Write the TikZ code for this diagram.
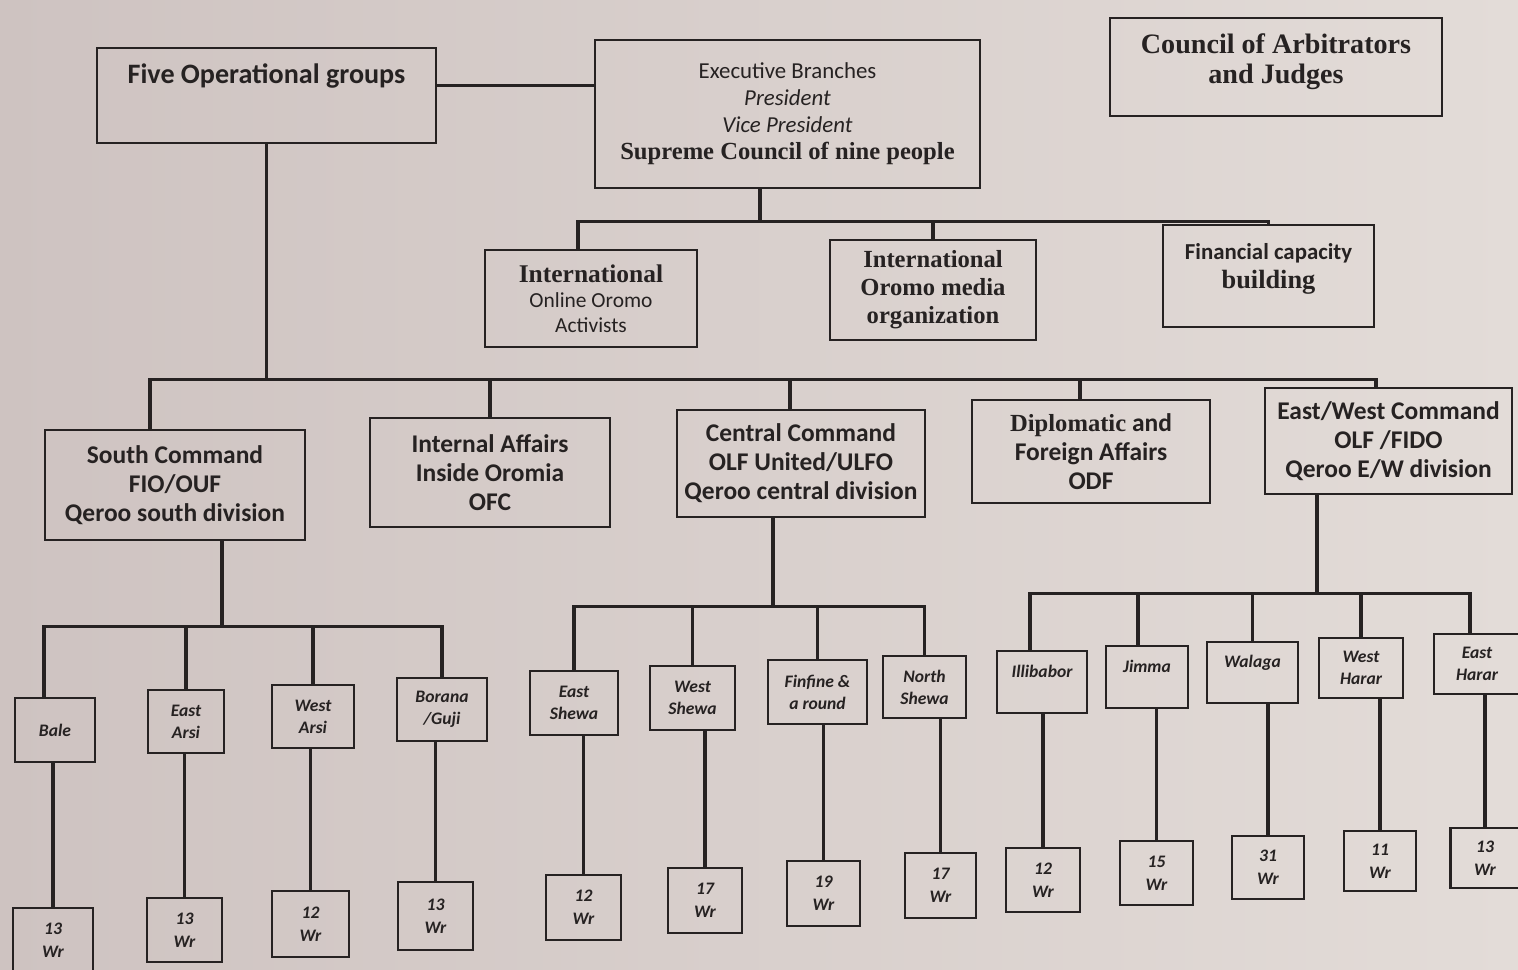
\documentclass[tikz,border=0pt]{standalone}
\usepackage{fontspec}
\setmainfont{Carlito}
\newfontfamily\tnr{Liberation Serif}
\usetikzlibrary{calc}
\definecolor{paperL}{RGB}{206,195,193}
\definecolor{paperR}{RGB}{227,220,216}
\definecolor{ink}{RGB}{38,34,34}
\tikzset{
  box/.style 2 args={draw=ink, line width=1.4pt, rectangle, inner sep=0pt, align=center, text=ink,
    minimum width=#1*0.02cm, minimum height=#2*0.02cm},
  link/.style={draw=ink, line width=1.8pt},
  lvltwo/.style={font=\fontsize{14.5}{16.5}\selectfont\bfseries},
  leaf/.style={font=\fontsize{10}{12.5}\selectfont\bfseries\itshape},
  wr/.style={font=\fontsize{10}{13}\selectfont\bfseries\itshape},
}
\begin{document}
\begin{tikzpicture}[x=0.02cm,y=-0.02cm]
\useasboundingbox (0,0) rectangle (1518,970);
\shade[left color=paperL, right color=paperR] (0,0) rectangle (1518,970);

% top level
\node[box={339}{95}, font=\fontsize{16}{18}\selectfont\bfseries, text height=0.7cm, text depth=1.2cm] (five) at (266.5,95.5) {Five Operational groups};
\node[box={385}{148}, font=\fontsize{13}{15.4}\selectfont] (exec) at (787.5,114)
  {Executive Branches\\ \textit{President}\\ \textit{Vice President}\\ {\tnr\bfseries\fontsize{14}{15.4}\selectfont Supreme Council of nine people}};
\node[box={332}{98}, font=\tnr\bfseries\fontsize{16}{17.6}\selectfont, text height=1.32cm, text depth=0.64cm] (council) at (1276,67) {Council of Arbitrators\\ and Judges};

% level 1
\node[box={212}{97}, font=\fontsize{12.2}{14.2}\selectfont] (online) at (591,298.5)
  {{\tnr\bfseries\fontsize{14.5}{14.2}\selectfont International}\\ Online Oromo\\ Activists};
\node[box={206}{100}, font=\tnr\bfseries\fontsize{14}{16}\selectfont] (media) at (933,290) {International\\ Oromo media\\ organization};
\node[box={211}{102}, font=\fontsize{13}{16.5}\selectfont\bfseries, text height=1.26cm, text depth=0.78cm] (fin) at (1268.5,276)
  {Financial capacity\\ {\tnr\bfseries\fontsize{15}{16.5}\selectfont building}};

% level 2
\node[box={260}{110}, lvltwo] (south) at (175,485) {South Command\\ FIO/OUF\\ Qeroo south division};
\node[box={240}{109}, lvltwo] (internal) at (490,472.5) {Internal Affairs\\ Inside Oromia\\ OFC};
\node[box={248}{107}, lvltwo] (central) at (801,463.5) {Central Command\\ OLF United/ULFO\\ Qeroo central division};
\node[box={238}{103}, lvltwo] (diplo) at (1091,451.5) {{\tnr\bfseries\fontsize{14}{16.5}\selectfont Diplomatic} and\\ Foreign Affairs\\ ODF};
\node[box={247}{106}, lvltwo] (ew) at (1388.5,441) {East/West Command\\ OLF /FIDO\\ Qeroo E/W division};

% level 3 south
\node[box={80}{64}, leaf] (bale) at (55,730) {Bale};
\node[box={76}{63}, leaf] (earsi) at (186,721.5) {East\\ Arsi};
\node[box={82}{63}, leaf] (warsi) at (313,716.5) {West\\ Arsi};
\node[box={90}{63}, leaf] (borana) at (442,709.5) {Borana\\ /Guji};
\node[box={80}{64}, wr] (w1) at (53,940) {13\\ Wr};
\node[box={75}{64}, wr] (w2) at (184.5,930) {13\\ Wr};
\node[box={77}{66}, wr] (w3) at (310.5,924) {12\\ Wr};
\node[box={75}{68}, wr] (w4) at (435.5,916) {13\\ Wr};

% level 3 central
\node[box={88}{64}, leaf] (eshewa) at (574,703) {East\\ Shewa};
\node[box={85}{64}, leaf] (wshewa) at (692.5,698) {West\\ Shewa};
\node[box={99}{64}, leaf] (finfine) at (817.5,692) {Finfine \&\\ a round};
\node[box={83}{62}, leaf] (nshewa) at (924.5,687) {North\\ Shewa};
\node[box={75}{65}, wr] (w5) at (583.5,907.5) {12\\ Wr};
\node[box={74}{65}, wr] (w6) at (705,900.5) {17\\ Wr};
\node[box={73}{65}, wr] (w7) at (823.5,893.5) {19\\ Wr};
\node[box={71}{65}, wr] (w8) at (940.5,885.5) {17\\ Wr};

% level 3 east/west
\node[box={90}{62}, leaf] (illi) at (1042,682) {Illibabor\\ \phantom{Wr}};
\node[box={82}{62}, leaf] (jimma) at (1147,677) {Jimma\\ \phantom{Wr}};
\node[box={91}{61}, leaf] (walaga) at (1252.5,672.5) {Walaga\\ \phantom{Wr}};
\node[box={84}{60}, leaf] (wharar) at (1361,668) {West\\ Harar};
\node[box={86}{60}, leaf] (eharar) at (1477,664) {East\\ Harar};
\node[box={74}{64}, wr] (w9) at (1043,880) {12\\ Wr};
\node[box={73}{64}, wr] (w10) at (1156.5,873) {15\\ Wr};
\node[box={72}{63}, wr] (w11) at (1268,867.5) {31\\ Wr};
\node[box={72}{60}, wr] (w12) at (1380,861) {11\\ Wr};
\node[box={69}{60}, wr] (w13) at (1485,858) {13\\ Wr};

% connectors: top
\coordinate (fe) at ([yshift=0.2cm]five.east);
\draw[link] (fe) -- (fe -| exec.west);

\coordinate (ex) at ([xshift=-0.55cm]exec.south);
\coordinate (b1) at ([yshift=-0.64cm]ex);
\coordinate (oN) at ([xshift=-0.26cm]online.north);
\draw[link] (ex) -- (b1);
\draw[link] (oN) |- (b1) -| (fin.north);
\draw[link] (media.north) -- (media.north |- b1);

\coordinate (b2) at ([yshift=-4.7cm]five.south);
\coordinate (sN) at ([xshift=-0.5cm]south.north);
\coordinate (ewN) at ([xshift=-0.25cm]ew.north);
\coordinate (cN) at ([xshift=-0.22cm]central.north);
\coordinate (dN) at ([xshift=-0.22cm]diplo.north);
\draw[link] (five.south) -- (b2);
\draw[link] (sN) |- (b2) -| (ewN);
\draw[link] (internal.north) -- (internal.north |- b2);
\draw[link] (cN) -- (cN |- b2);
\draw[link] (dN) -- (dN |- b2);

% south branch
\coordinate (sS) at ([xshift=0.94cm]south.south);
\coordinate (b3a) at ([yshift=-1.7cm]sS);
\coordinate (baleN) at ([xshift=-0.22cm]bale.north);
\draw[link] (sS) -- (b3a);
\draw[link] (baleN) |- (b3a) -| (borana.north);
\draw[link] (earsi.north) -- (earsi.north |- b3a);
\draw[link] (warsi.north) -- (warsi.north |- b3a);
\draw[link] (w1.north) -- (w1.north |- bale.south);
\draw[link] (w2.north) -- (w2.north |- earsi.south);
\draw[link] (w3.north) -- (w3.north |- warsi.south);
\draw[link] (w4.north) -- (w4.north |- borana.south);

% central branch
\coordinate (cS) at ([xshift=-0.56cm]central.south);
\coordinate (b3b) at ([yshift=-1.76cm]cS);
\draw[link] (cS) -- (b3b);
\draw[link] (eshewa.north) |- (b3b) -| (nshewa.north);
\draw[link] (wshewa.north) -- (wshewa.north |- b3b);
\draw[link] (finfine.north) -- (finfine.north |- b3b);
\draw[link] (w5.north) -- (w5.north |- eshewa.south);
\draw[link] (w6.north) -- (w6.north |- wshewa.south);
\draw[link] (w7.north) -- (w7.north |- finfine.south);
\draw[link] (w8.north) -- (w8.north |- nshewa.south);

% east/west branch
\coordinate (eS) at ([xshift=-1.43cm]ew.south);
\coordinate (b3c) at ([yshift=-1.96cm]eS);
\coordinate (iN) at ([xshift=-0.24cm]illi.north);
\coordinate (ehN) at ([xshift=-0.14cm]eharar.north);
\coordinate (jN) at ([xshift=-0.18cm]jimma.north);
\draw[link] (eS) -- (b3c);
\draw[link] (iN) |- (b3c) -| (ehN);
\draw[link] (jN) -- (jN |- b3c);
\draw[link] (walaga.north) -- (walaga.north |- b3c);
\draw[link] (wharar.north) -- (wharar.north |- b3c);
\draw[link] (w9.north) -- (w9.north |- illi.south);
\draw[link] (w10.north) -- (w10.north |- jimma.south);
\draw[link] (w11.north) -- (w11.north |- walaga.south);
\draw[link] (w12.north) -- (w12.north |- wharar.south);
\draw[link] (w13.north) -- (w13.north |- eharar.south);
\end{tikzpicture}
\end{document}
